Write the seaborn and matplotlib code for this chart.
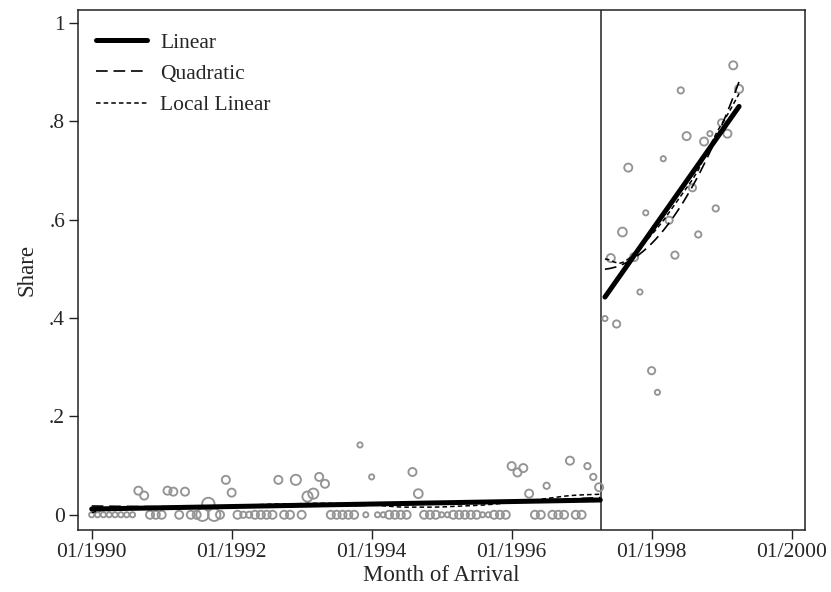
import matplotlib
matplotlib.use("Agg")
import matplotlib.pyplot as plt
import numpy as np
import pandas as pd
import seaborn as sns

# monthly arrival cohorts, 01/1990 - 04/1999
months = pd.period_range("1990-01", "1999-04", freq="M")
cutoff_month = pd.Period("1997-04", freq="M")

share_before = [
    0, 0, 0, 0, 0, 0, 0, 0, 0.049, 0.039,
    0, 0, 0, 0.049, 0.047, 0, 0.047, 0, 0, 0,
    0.022, 0, 0, 0.071, 0.045, 0, 0, 0, 0, 0,
    0, 0, 0.071, 0, 0, 0.071, 0, 0.037, 0.043, 0.077,
    0.063, 0, 0, 0, 0, 0, 0.142, 0, 0.077, 0,
    0, 0, 0, 0, 0, 0.087, 0.043, 0, 0, 0,
    0, 0, 0, 0, 0, 0, 0, 0, 0, 0,
    0, 0, 0.099, 0.086, 0.095, 0.043, 0, 0, 0.059, 0,
    0, 0, 0.110, 0, 0, 0.099, 0.077, 0.056,
]
share_after = [
    0.399, 0.522, 0.388, 0.575, 0.706, 0.524, 0.453, 0.614, 0.293, 0.249,
    0.724, 0.599, 0.528, 0.863, 0.770, 0.665, 0.570, 0.759, 0.775, 0.623,
    0.797, 0.775, 0.914, 0.866,
]
weight_before = [
    1, 1, 1, 1, 1, 1, 1, 1, 2.5, 2.5,
    2.5, 2.5, 2.5, 2.5, 2.5, 2.5, 2.5, 2.5, 2.5, 6,
    6, 6, 2.5, 2.5, 2.5, 2.5, 1.5, 1.5, 2.5, 2.5,
    2.5, 2.5, 2.5, 2.5, 2.5, 4, 2.5, 4, 4, 2.5,
    2.5, 2.5, 2.5, 2.5, 2.5, 2.5, 1, 1, 1, 1,
    1, 2.5, 2.5, 2.5, 2.5, 2.5, 3, 2.5, 2.5, 2.5,
    1, 1, 2.5, 2.5, 2.5, 2.5, 2.5, 1, 1, 2.5,
    2.5, 2.5, 2.5, 2.5, 2.5, 2.5, 2.5, 2.5, 1.5, 2.5,
    2.5, 2.5, 2.5, 2.5, 2.5, 1.5, 1.5, 2.5,
]
weight_after = [
    1, 2.5, 2, 3, 2.5, 2.5, 1, 1, 2, 1,
    1, 2, 2, 1.5, 2.5, 2, 1.5, 2.5, 1, 1.5,
    2, 2.5, 2.5, 2.5,
]

tick_labels = ["01/1990", "01/1992", "01/1994", "01/1996", "01/1998", "01/2000"]
ytick_values = [0, 0.2, 0.4, 0.6, 0.8, 1.0]
ytick_labels = ["0", ".2", ".4", ".6", ".8", "1"]


def month_index(p):
    return (p.year - 1990) * 12 + (p.month - 1)


def local_linear(x, y, w, grid, bw):
    out = []
    for g in grid:
        u = (x - g) / bw
        k = np.where(np.abs(u) < 1, 0.75 * (1 - u ** 2), 0) * w
        X = np.column_stack([np.ones_like(x), x - g])
        beta = np.linalg.lstsq(X * np.sqrt(k)[:, None], y * np.sqrt(k), rcond=None)[0]
        out.append(beta[0])
    return np.array(out)


df = pd.DataFrame({
    "t": [month_index(p) for p in months],
    "share": share_before + share_after,
    "w": weight_before + weight_after,
})
cut = month_index(cutoff_month)
df["post"] = df["t"] > cut

sns.set_theme(style="ticks")
plt.rcParams["font.family"] = ["Liberation Serif", "DejaVu Serif"]

fig = plt.figure(figsize=(8.31, 5.92), dpi=100)
ax = fig.add_axes([0.0942, 0.1047, 0.8745, 0.878])

sns.scatterplot(data=df, x="t", y="share", size="w", sizes=(14, 80), size_norm=(1, 6),
                facecolor="none", edgecolor="#949494", linewidth=1.35, legend=False, ax=ax,
                zorder=2)

for post, part in df.groupby("post"):
    x = part["t"].to_numpy(float)
    y = part["share"].to_numpy(float)
    w = part["w"].to_numpy(float)
    grid = np.linspace(x.min(), x.max() + (0 if post else 0.2), 200)
    lin = np.polyval(np.polyfit(x, y, 1, w=np.sqrt(w)), grid)
    quad = np.polyval(np.polyfit(x, y, 2, w=np.sqrt(w)), grid)
    loc = local_linear(x, y, w, grid, 12 if post else 20)
    fits = pd.DataFrame({"t": grid, "lin": lin, "quad": quad, "loc": loc})
    sns.lineplot(data=fits, x="t", y="lin", color="black", lw=3.6, solid_capstyle="round",
                 label=None if post else "Linear", ax=ax, zorder=3)
    sns.lineplot(data=fits, x="t", y="quad", color="black", lw=1.2, dashes=(7, 3.5),
                 label=None if post else "Quadratic", ax=ax, zorder=4)
    sns.lineplot(data=fits, x="t", y="loc", color="black", lw=1.1, dashes=(3, 2),
                 label=None if post else "Local Linear", ax=ax, zorder=4)

ax.axvline(cut + 0.25, color="#333333", lw=1.2, zorder=1)

tick_pos = [month_index(pd.Period(f"{s[3:]}-{s[:2]}", freq="M")) for s in tick_labels]
ax.set_xticks(tick_pos)
ax.set_xticklabels(tick_labels)
ax.set_yticks(ytick_values)
ax.set_yticklabels(ytick_labels)
ax.set_xlim(-2.3, 122.3)
ax.set_ylim(-0.031, 1.026)
ax.tick_params(axis="both", direction="out", length=6.5, width=1.0, labelsize=15.5,
               color="#222222", pad=3)
for side in ["left", "right", "top", "bottom"]:
    ax.spines[side].set_visible(True)
    ax.spines[side].set_color("#222222")
    ax.spines[side].set_linewidth(1.1)
ax.set_xlabel("Month of Arrival", fontsize=16.5, labelpad=2)
ax.set_ylabel("Share", fontsize=16.5, labelpad=8)
ax.grid(False)

ax.legend(loc="upper left", bbox_to_anchor=(0.0, 0.99), frameon=False, fontsize=15.5,
          handlelength=2.4, handletextpad=0.6, labelspacing=0.52, borderaxespad=0.4)

fig.savefig("out.png", dpi=100)
